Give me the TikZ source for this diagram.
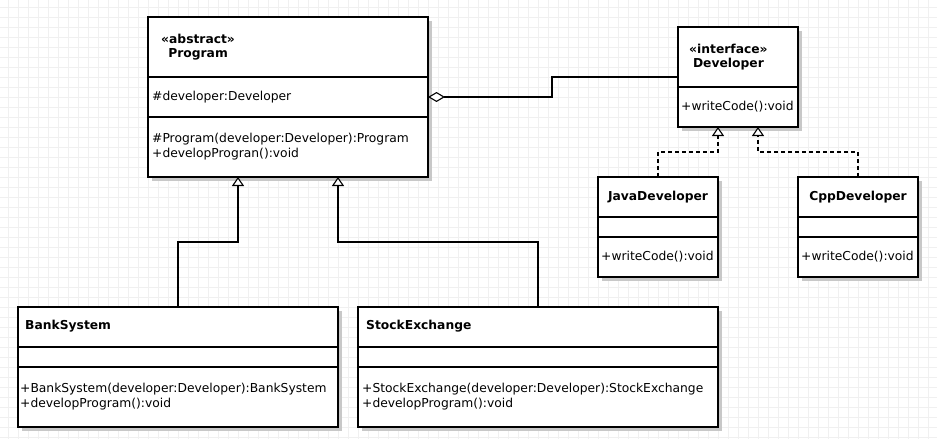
\documentclass[tikz,border=0pt]{standalone}
\usepackage{fontspec}
\setmainfont{DejaVu Sans}
\usepackage{xcolor}
\usetikzlibrary{arrows.meta, positioning, shadows}
\definecolor{GridGray}{RGB}{240, 240, 240}
\definecolor{ShadowGray}{RGB}{200, 200, 200}

\begin{document}
\begin{tikzpicture}[
    x=1pt, y=-1pt,
    classbox/.style={rectangle, draw=black, line width=1.1pt, fill=white, inner sep=0pt, outer sep=0pt,
        drop shadow={shadow xshift=3.5pt, shadow yshift=-3.5pt, fill=ShadowGray, opacity=1}},
    member/.style={anchor=west, inner sep=0pt, align=left, font=\fontsize{12.3}{15}\selectfont},
    classname/.style={anchor=west, inner sep=0pt, align=center, font=\fontsize{12.3}{14}\selectfont\bfseries},
    divider/.style={line width=1.1pt},
    gridline/.style={draw=GridGray, line width=0.8pt},
    gen/.style={line width=1.1pt, -{Triangle[open, length=9pt, width=12pt, fill=white]}},
    realize/.style={gen, dash pattern=on 4pt off 3pt},
    agg/.style={line width=1.1pt, {Diamond[open, length=17pt, width=10pt, fill=white]}-}
]

% Canvas
\useasboundingbox (0,0) rectangle (937,439);
\fill[white] (0,0) rectangle (937,439);
\foreach \gx in {8,18,...,928} \draw[gridline] (\gx,0) -- (\gx,439);
\foreach \gy in {7,17,...,437} \draw[gridline] (0,\gy) -- (937,\gy);

% Classes
\node[classbox, minimum width=280pt, minimum height=160pt] (program) at (288,97) {};
\node[classbox, minimum width=120pt, minimum height=100pt] (dev) at (738,77) {};
\node[classbox, minimum width=120pt, minimum height=100pt] (java) at (658,227) {};
\node[classbox, minimum width=120pt, minimum height=100pt, right=80pt of java] (cpp) {};
\node[classbox, minimum width=320pt, minimum height=120pt] (bank) at (178,367) {};
\node[classbox, minimum width=360pt, minimum height=120pt, right=20pt of bank] (stock) {};

% Compartments
\draw[divider] ([yshift=-60pt]program.north west) -- ([yshift=-60pt]program.north east);
\draw[divider] ([yshift=-100pt]program.north west) -- ([yshift=-100pt]program.north east);
\draw[divider] ([yshift=-60pt]dev.north west) -- ([yshift=-60pt]dev.north east);
\foreach \cls in {java, cpp, bank, stock} {
    \draw[divider] ([yshift=-40pt]\cls.north west) -- ([yshift=-40pt]\cls.north east);
    \draw[divider] ([yshift=-60pt]\cls.north west) -- ([yshift=-60pt]\cls.north east);
}

% Texts
\node[classname] (programname) at (161,47) {«abstract»\\Program};
\node[member] (programattr) at (152,97) {\#developer:Developer};
\node[member] (programops) at (152,146.5) {\#Program(developer:Developer):Program\\+developProgran():void};
\node[classname] (devname) at (689,57) {«interface»\\Developer};
\node[member] (devops) at (681,107) {+writeCode():void};
\node[classname, anchor=center] (javaname) at (658,197) {JavaDeveloper};
\node[member] (javaops) at (601,257) {+writeCode():void};
\node[classname, anchor=center] (cppname) at (858,197) {CppDeveloper};
\node[member] (cppops) at (801,257) {+writeCode():void};
\node[classname] (bankname) at (25,326) {BankSystem};
\node[member] (bankops) at (20,396.5) {+BankSystem(developer:Developer):BankSystem\\+developProgram():void};
\node[classname] (stockname) at (366,326) {StockExchange};
\node[member] (stockops) at (362,396.5) {+StockExchange(developer:Developer):StockExchange\\+developProgram():void};

% Relations
\draw[gen] (bank.north) -- ++(0,-65) -| ([xshift=-50pt]program.south);
\draw[gen] (stock.north) -- ++(0,-65) -| ([xshift=50pt]program.south);
\draw[realize] (java.north) -- ++(0,-25) -| ([xshift=-20pt]dev.south);
\draw[realize] (cpp.north) -- ++(0,-25) -| ([xshift=20pt]dev.south);
\draw[agg] (program.east) -- ++(124,0) |- (dev.west);

\end{tikzpicture}
\end{document}
